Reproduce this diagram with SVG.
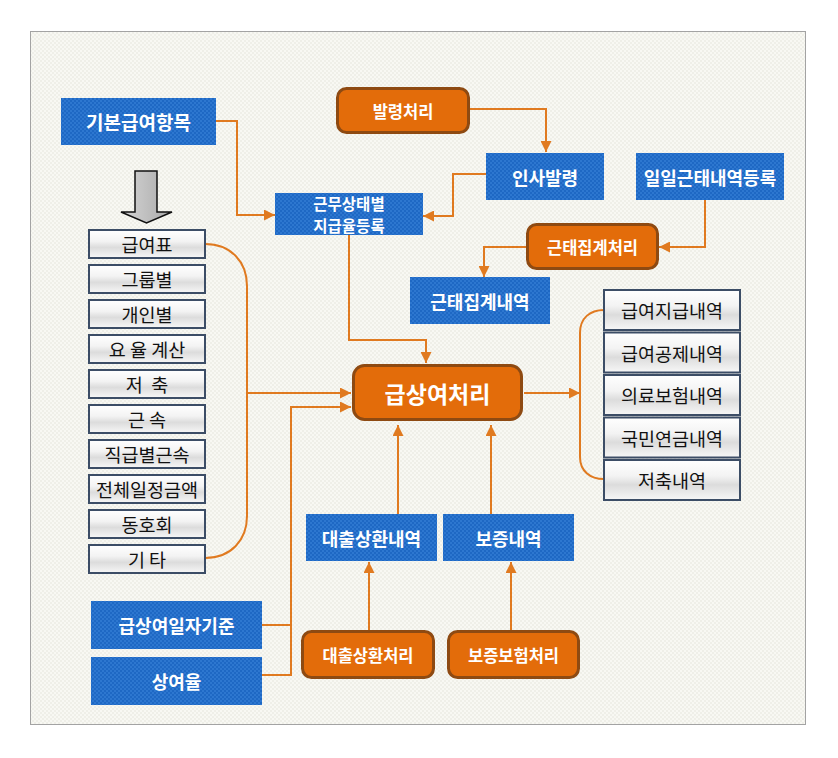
<svg xmlns="http://www.w3.org/2000/svg" width="838" height="758" viewBox="0 0 838 758">
<defs>
<pattern id="chk" width="4" height="4" patternUnits="userSpaceOnUse">
<rect width="4" height="4" fill="#1e68c4"/>
<rect width="2" height="2" fill="#2d77d0"/>
<rect x="2" y="2" width="2" height="2" fill="#2d77d0"/>
</pattern>
<pattern id="bgchk" width="4" height="4" patternUnits="userSpaceOnUse">
<rect width="4" height="4" fill="#f8f8f3"/>
<rect width="2" height="2" fill="#efefe8"/>
<rect x="2" y="2" width="2" height="2" fill="#efefe8"/>
</pattern>
<linearGradient id="lst" x1="0" y1="0" x2="0" y2="1">
<stop offset="0" stop-color="#ffffff"/>
<stop offset="0.4" stop-color="#f3f3f3"/>
<stop offset="0.62" stop-color="#dcdcdc"/>
<stop offset="1" stop-color="#f7f7f7"/>
</linearGradient>
<linearGradient id="gray" x1="0" y1="0" x2="1" y2="0">
<stop offset="0" stop-color="#d6d6d6"/>
<stop offset="1" stop-color="#a9a9a9"/>
</linearGradient>
<marker id="ah" viewBox="0 0 10 10" refX="10" refY="5" markerWidth="11" markerHeight="11" markerUnits="userSpaceOnUse" orient="auto">
<path d="M0,0 L10,5 L0,10 Z" fill="#e07a20"/>
</marker>
<style>
.blue{fill:url(#chk);}
.org{fill:#e36c0a;stroke:#8e4a12;stroke-width:3;}
.lst{fill:url(#lst);stroke:#3c4d66;stroke-width:2;}
.wt{fill:#ffffff;font-family:"Noto Sans CJK KR","Noto Sans",sans-serif;font-weight:bold;text-anchor:middle;dominant-baseline:central;}
.bt{fill:#111111;font-family:"Noto Sans CJK KR","Noto Sans",sans-serif;font-size:18.5px;text-anchor:middle;dominant-baseline:central;}
.c{fill:none;stroke:#e07a20;stroke-width:2;}
</style>
</defs>
<rect width="838" height="758" fill="#ffffff"/>
<rect x="30.5" y="31.5" width="775" height="693" fill="url(#bgchk)" stroke="#a3a3a3" stroke-width="1"/>

<g id="connectors">
<path class="c" d="M216,121 L237,121 L237,215 L275,215" marker-end="url(#ah)"/>
<path class="c" d="M470,109 L546,109 L546,152" marker-end="url(#ah)"/>
<path class="c" d="M486,174 L453,174 L453,216 L423,216" marker-end="url(#ah)"/>
<path class="c" d="M705,200 L705,247 L659,247" marker-end="url(#ah)"/>
<path class="c" d="M526,247 L484,247 L484,277" marker-end="url(#ah)"/>
<path class="c" d="M349,235 L349,340 L426,340 L426,363" marker-end="url(#ah)"/>
<path class="c" d="M205,244 C231,244 247,262 247,286 L247,516 C247,540 231,558 205,558"/>
<path class="c" d="M247,393 L351,393" marker-end="url(#ah)"/>
<path class="c" d="M262,625 L291,625"/>
<path class="c" d="M262,675 L291,675 L291,407 L351,407" marker-end="url(#ah)"/>
<path class="c" d="M398,514 L398,425" marker-end="url(#ah)"/>
<path class="c" d="M491,514 L491,425" marker-end="url(#ah)"/>
<path class="c" d="M369,630 L369,562" marker-end="url(#ah)"/>
<path class="c" d="M511,630 L511,562" marker-end="url(#ah)"/>
<path class="c" d="M524,393 L580,393" marker-end="url(#ah)"/>
<path class="c" d="M604,310 C590,310 580,318 580,333 L580,457 C580,471 590,479 604,479"/>
</g>

<g id="n-basic"><rect class="blue" x="61" y="98" width="155" height="47"/><text class="wt" x="138.5" y="121.5" font-size="19">기본급여항목</text></g>
<g id="n-downarrow"><polygon points="135,171 157,171 157,212 172,212 146.5,223 121,212 135,212" fill="url(#gray)" stroke="#111" stroke-width="1.5" stroke-linejoin="miter"/></g>

<g id="n-list-left">
<g id="l1"><rect class="lst" x="89" y="230" width="116" height="28"/><text class="bt" x="147" y="244">급여표</text></g>
<g id="l2"><rect class="lst" x="89" y="265" width="116" height="28"/><text class="bt" x="147" y="279">그룹별</text></g>
<g id="l3"><rect class="lst" x="89" y="300" width="116" height="28"/><text class="bt" x="147" y="314">개인별</text></g>
<g id="l4"><rect class="lst" x="89" y="335" width="116" height="28"/><text class="bt" x="147" y="349" xml:space="preserve">요 율 계산</text></g>
<g id="l5"><rect class="lst" x="89" y="370" width="116" height="28"/><text class="bt" x="147" y="384" xml:space="preserve">저  축</text></g>
<g id="l6"><rect class="lst" x="89" y="405" width="116" height="28"/><text class="bt" x="147" y="419" xml:space="preserve">근 속</text></g>
<g id="l7"><rect class="lst" x="89" y="440" width="116" height="28"/><text class="bt" x="147" y="454">직급별근속</text></g>
<g id="l8"><rect class="lst" x="89" y="475" width="116" height="28"/><text class="bt" x="147" y="489">전체일정금액</text></g>
<g id="l9"><rect class="lst" x="89" y="510" width="116" height="28"/><text class="bt" x="147" y="524">동호회</text></g>
<g id="l10"><rect class="lst" x="89" y="545" width="116" height="28"/><text class="bt" x="147" y="559" xml:space="preserve">기 타</text></g>
</g>

<g id="n-geunmu"><rect class="blue" x="275" y="193" width="148" height="42"/><text class="wt" x="349" y="203" font-size="15.5">근무상태별</text><text class="wt" x="349" y="225" font-size="15.5">지급율등록</text></g>
<g id="n-balryeong"><rect class="org" x="337.5" y="88.5" width="131" height="44" rx="9"/><text class="wt" x="403" y="110.5" font-size="16.5">발령처리</text></g>
<g id="n-insa"><rect class="blue" x="486" y="153" width="118" height="47"/><text class="wt" x="545" y="176.5" font-size="18">인사발령</text></g>
<g id="n-ilil"><rect class="blue" x="636" y="153" width="148" height="47"/><text class="wt" x="710" y="176.5" font-size="18">일일근태내역등록</text></g>
<g id="n-geuntae-proc"><rect class="org" x="527.5" y="224.5" width="130" height="44" rx="9"/><text class="wt" x="592.5" y="246.5" font-size="16.5">근태집계처리</text></g>
<g id="n-geuntae-list"><rect class="blue" x="410" y="277" width="140" height="47"/><text class="wt" x="480" y="300.5" font-size="18">근태집계내역</text></g>
<g id="n-main"><rect class="org" x="353.5" y="365.5" width="168" height="54" rx="11"/><text class="wt" x="437.5" y="392.5" font-size="23">급상여처리</text></g>

<g id="n-list-right">
<g id="r1"><rect class="lst" x="604" y="290" width="136" height="40"/><text class="bt" x="672" y="310">급여지급내역</text></g>
<g id="r2"><rect class="lst" x="604" y="332.5" width="136" height="40"/><text class="bt" x="672" y="352.5">급여공제내역</text></g>
<g id="r3"><rect class="lst" x="604" y="375" width="136" height="40"/><text class="bt" x="672" y="395">의료보험내역</text></g>
<g id="r4"><rect class="lst" x="604" y="417.5" width="136" height="40"/><text class="bt" x="672" y="437.5">국민연금내역</text></g>
<g id="r5"><rect class="lst" x="604" y="460" width="136" height="40"/><text class="bt" x="672" y="480">저축내역</text></g>
</g>

<g id="n-loan-list"><rect class="blue" x="306" y="514" width="131" height="47"/><text class="wt" x="371.5" y="537.5" font-size="18">대출상환내역</text></g>
<g id="n-guar-list"><rect class="blue" x="443" y="514" width="131" height="47"/><text class="wt" x="508.5" y="537.5" font-size="18">보증내역</text></g>
<g id="n-date"><rect class="blue" x="91" y="601" width="171" height="48"/><text class="wt" x="176.5" y="625" font-size="18">급상여일자기준</text></g>
<g id="n-rate"><rect class="blue" x="91" y="657" width="171" height="48"/><text class="wt" x="176.5" y="681" font-size="18">상여율</text></g>
<g id="n-loan-proc"><rect class="org" x="302.5" y="631.5" width="131" height="46" rx="9"/><text class="wt" x="368" y="654.5" font-size="16.5">대출상환처리</text></g>
<g id="n-guar-proc"><rect class="org" x="448.5" y="631.5" width="130" height="46" rx="9"/><text class="wt" x="513.5" y="654.5" font-size="16.5">보증보험처리</text></g>
</svg>
